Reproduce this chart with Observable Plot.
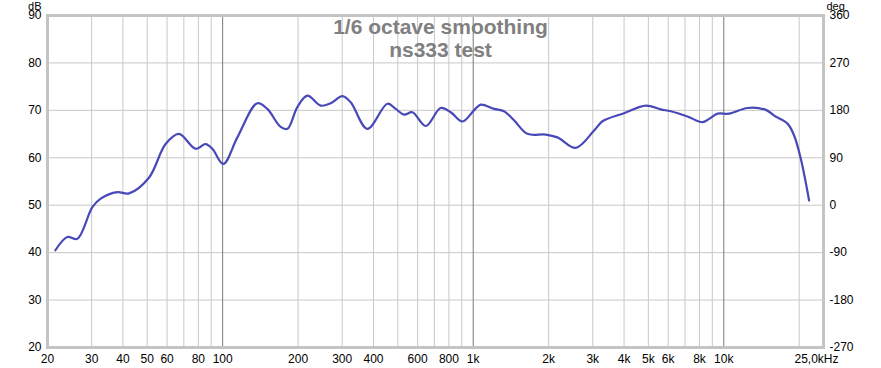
<!DOCTYPE html>
<html>
<head>
<meta charset="utf-8">
<script src="https://cdn.jsdelivr.net/npm/d3@7"></script>
<script src="https://cdn.jsdelivr.net/npm/@observablehq/plot@0.6"></script>
<style>
  html, body { margin: 0; padding: 0; background: #fff; }
  #chart svg { display: block; }
</style>
</head>
<body>
<div id="chart"></div>
<script>
// Frequency response (Hz, dB)
const freqs = [21.5, 24.0, 26.3, 30.2, 32.6, 38.0, 42.3, 50.8, 59.2, 66.9, 78.0, 85.5, 91.0, 100.6,
  114.5, 137.5, 150.8, 170.4, 181.3, 198.7, 217.9, 246.2, 269.9, 300.6, 324.3, 378.1, 454.5, 490.6,
  529.6, 572.0, 646.3, 741.9, 813.2, 905.4, 1007, 1071, 1211, 1327, 1455, 1646, 1947, 2168, 2566,
  3036, 3280, 4000, 4883, 5605, 6143, 7164, 8222, 8737, 9437, 10500, 12433, 14714, 15879, 17963,
  19080, 20294, 21904];
const dbs = [40.5, 43.3, 42.9, 49.6, 51.4, 52.75, 52.5, 55.8, 62.9, 65.05, 61.9, 62.9, 61.9, 58.7,
  64.3, 71.5, 70.3, 66.5, 66.1, 70.7, 73.1, 71.0, 71.5, 73.0, 71.7, 66.1, 71.4, 70.3,
  69.1, 69.6, 66.7, 70.5, 69.6, 67.65, 70.0, 71.2, 70.3, 69.8, 67.9, 65.05, 64.9, 64.3, 62.1,
  65.75, 67.7, 69.4, 71.0, 70.2, 69.8, 68.7, 67.5, 68.2, 69.3, 69.3, 70.5, 70.1, 68.9, 67.2,
  64.7, 59.8, 51.0];

const titleLines = ["1/6 octave smoothing", "ns333 test"];
const dbTicks = [20, 30, 40, 50, 60, 70, 80, 90];
const degLabels = ["-270", "-180", "-90", "0", "90", "180", "270", "360"];
const xTicks = [20, 30, 40, 50, 60, 80, 100, 200, 300, 400, 600, 800, 1000, 2000, 3000, 4000, 5000, 6000, 8000, 10000];
const xTickLabels = ["20", "30", "40", "50", "60", "80", "100", "200", "300", "400", "600", "800", "1k", "2k", "3k", "4k", "5k", "6k", "8k", "10k"];
const endLabel = ["25,0kHz"];
const endFreq = [25000];
const decades = [100, 1000, 10000];
const minorGrid = [30, 40, 50, 60, 70, 80, 90, 200, 300, 400, 500, 600, 700, 800, 900,
  2000, 3000, 4000, 5000, 6000, 7000, 8000, 9000, 20000];

const data = freqs.map((f, i) => ({f, db: dbs[i]}));
const xLabelData = xTicks.map((f, i) => ({f, label: xTickLabels[i]}));
const endLabelData = endFreq.map((f, i) => ({f, label: endLabel[i]}));

const chart = Plot.plot({
  width: 881,
  height: 368,
  marginLeft: 47,
  marginRight: 58,
  marginTop: 15,
  marginBottom: 21,
  x: {type: "log", domain: [20, 25000], axis: null},
  y: {domain: [20, 90]},
  style: {fontFamily: "'Liberation Sans', Arial, sans-serif", fontSize: "12px", background: "#fff", color: "#000"},
  marks: [
    Plot.ruleX(minorGrid, {stroke: "#c8c8c8", strokeWidth: 1}),
    Plot.ruleY(dbTicks, {stroke: "#c8c8c8", strokeWidth: 1}),
    Plot.ruleX(decades, {stroke: "#7a7a7a", strokeWidth: 1}),
    Plot.frame({stroke: "#c4c4c4", strokeWidth: 3}),
    Plot.text([titleLines[0]], {frameAnchor: "top", dx: 5, dy: 12, lineAnchor: "middle", fontSize: 21, fontWeight: "bold", fill: "#808080"}),
    Plot.text([titleLines[1]], {frameAnchor: "top", dx: 5, dy: 35, lineAnchor: "middle", fontSize: 21, fontWeight: "bold", fill: "#808080"}),
    Plot.line(data, {x: "f", y: "db", curve: "catmull-rom", stroke: "#4848b8", strokeWidth: 2.2}),
    Plot.axisY(dbTicks, {anchor: "left", tickSize: 0, tickPadding: 6, label: null, fill: "#000"}),
    Plot.axisY(dbTicks, {anchor: "right", tickSize: 0, tickPadding: 6, label: null, fill: "#000",
      tickFormat: d => degLabels[dbTicks.indexOf(d)]}),
    Plot.text(xLabelData, {x: "f", text: "label", frameAnchor: "bottom", dy: 12, lineAnchor: "middle", fill: "#000"}),
    Plot.text(endLabelData, {x: "f", text: "label", frameAnchor: "bottom", dy: 12, dx: -7, lineAnchor: "middle", fill: "#000"}),
    Plot.text(["dB"], {frameAnchor: "top-left", textAnchor: "end", dx: -6, dy: -9.5, lineAnchor: "middle", fontSize: 11, fill: "#000"}),
    Plot.text(["deg"], {frameAnchor: "top-right", textAnchor: "start", dx: 3, dy: -9.5, lineAnchor: "middle", fontSize: 11, fill: "#000"})
  ]
});
document.getElementById("chart").appendChild(chart);
</script>
</body>
</html>
